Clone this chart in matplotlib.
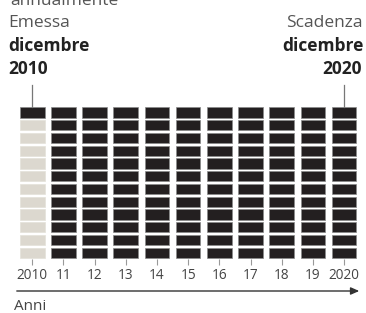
import matplotlib
matplotlib.use('Agg')
import matplotlib.pyplot as plt

# dati: anni della cedola e numero di pagamenti (12 per anno)
anni = [2010, 2011, 2012, 2013, 2014, 2015, 2016, 2017, 2018, 2019, 2020]
etichette = ['2010', '11', '12', '13', '14', '15', '16', '17', '18', '19', '2020']
mesi_pagati = [1, 12, 12, 12, 12, 12, 12, 12, 12, 12, 12]
n_mesi = 12

nero = '#231f20'
beige = '#dcd8cf'
grigio = '#555555'

plt.rcParams['font.family'] = ['Open Sans', 'DejaVu Sans']

fig = plt.figure(figsize=(3.66, 3.13), dpi=100)
ax = fig.add_axes([0.0456, 0.1716, 0.937, 0.4895])

# una barra per ogni mese, dall'alto verso il basso
for riga in range(n_mesi):
    colori = []
    bordi = []
    for pagati in mesi_pagati:
        # riga 0 = in basso
        if (n_mesi - 1 - riga) < pagati:
            colori.append(nero)
            bordi.append('#8a8a8a')
        else:
            colori.append(beige)
            bordi.append('#e4e1da')
    ax.bar(anni, 0.8, bottom=riga + 0.1, width=0.79, color=colori,
           edgecolor=bordi, linewidth=0.5)

ax.set_xlim(2009.5, 2020.5)
ax.set_ylim(0, n_mesi)
for s in ax.spines.values():
    s.set_visible(False)
ax.set_yticks([])
ax.set_xticks(anni)
ax.set_xticklabels(etichette, fontsize=9.8, color='#444444')
ax.tick_params(axis='x', length=4, width=0.8, color='#999999', pad=2)

# linee di richiamo verso le etichette
ax.plot([anni[0], anni[0]], [11.9, 13.65], color='#777777', lw=0.9, clip_on=False)
ax.plot([anni[-1], anni[-1]], [11.9, 13.65], color='#777777', lw=0.9, clip_on=False)

# freccia degli anni
ax.annotate('', xy=(362 / 366, 1 - 291 / 313), xytext=(14 / 366, 1 - 291 / 313),
            xycoords='figure fraction', textcoords='figure fraction',
            arrowprops=dict(arrowstyle='-|>,head_length=0.5,head_width=0.22',
                            color='#333333', lw=1.0))
fig.text(14 / 366, 1 - 306 / 313, 'Anni', fontsize=11, color='#444444',
         ha='left', va='center')

# testi in alto (la prima riga è tagliata dal bordo, come nell'originale)
fig.text(10 / 366, 1 - 5 / 313, 'annualmente', fontsize=12.5, color=grigio,
         ha='left', va='baseline')
fig.text(8 / 366, 1 - 27 / 313, 'Emessa', fontsize=12.5, color=grigio,
         ha='left', va='baseline')
fig.text(8 / 366, 1 - 51 / 313, 'dicembre', fontsize=12.5, color='#222222',
         fontweight='bold', ha='left', va='baseline')
fig.text(8 / 366, 1 - 74 / 313, '2010', fontsize=12.5, color='#222222',
         fontweight='bold', ha='left', va='baseline')
fig.text(363 / 366, 1 - 27 / 313, 'Scadenza', fontsize=12.5, color=grigio,
         ha='right', va='baseline')
fig.text(364 / 366, 1 - 51 / 313, 'dicembre', fontsize=12.5, color='#222222',
         fontweight='bold', ha='right', va='baseline')
fig.text(362 / 366, 1 - 74 / 313, '2020', fontsize=12.5, color='#222222',
         fontweight='bold', ha='right', va='baseline')

fig.savefig('out.png', dpi=100)
